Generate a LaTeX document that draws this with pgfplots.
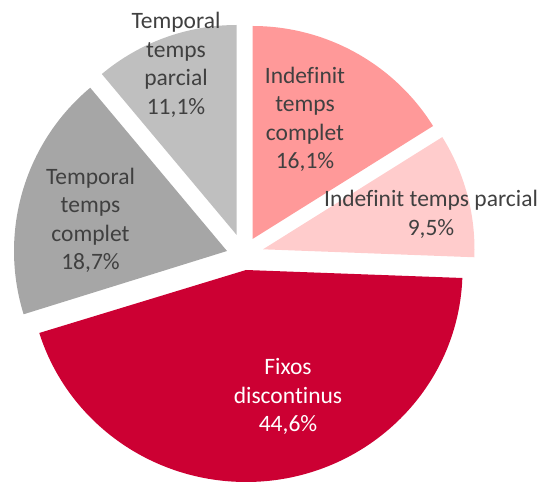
\documentclass[border=0pt]{standalone}
\usepackage{fontspec}
\setmainfont[Ligatures=NoCommon]{Carlito}
\usepackage{pgfplots}
\pgfplotsset{compat=1.18}
\usepackage{pgfplotstable}

\definecolor{cA}{HTML}{FF9999}
\definecolor{cB}{HTML}{FFCCCC}
\definecolor{cC}{HTML}{CC0033}
\definecolor{cD}{HTML}{A6A6A6}
\definecolor{cE}{HTML}{BFBFBF}
\definecolor{txt}{HTML}{404040}

% shares (%) of each slice, clockwise from the top
\pgfplotstableread{
value
16.1
9.5
44.6
18.7
11.1
}\piedata

\begin{document}
\begin{tikzpicture}
\pgfplotstablegetelem{0}{value}\of\piedata \pgfmathsetmacro\vA{\pgfplotsretval}
\pgfplotstablegetelem{1}{value}\of\piedata \pgfmathsetmacro\vB{\pgfplotsretval}
\pgfplotstablegetelem{2}{value}\of\piedata \pgfmathsetmacro\vC{\pgfplotsretval}
\pgfplotstablegetelem{3}{value}\of\piedata \pgfmathsetmacro\vD{\pgfplotsretval}
\pgfplotstablegetelem{4}{value}\of\piedata \pgfmathsetmacro\vE{\pgfplotsretval}
\pgfmathsetmacro\aA{90}
\pgfmathsetmacro\aB{\aA-3.6*\vA}
\pgfmathsetmacro\aC{\aB-3.6*\vB}
\pgfmathsetmacro\aD{\aC-3.6*\vC}
\pgfmathsetmacro\aE{\aD-3.6*\vD}
\pgfmathsetmacro\aF{\aE-3.6*\vE}
% #1 start angle, #2 end angle, #3,#4 apex (axis units), #5 x radius, #6 y radius, #7 colour
\newcommand\slice[7]{%
  \fill[#7] (axis cs:#3,#4) -- ++(#1:#5pt and #6pt)
    arc[start angle=#1, end angle=#2, x radius=#5pt, y radius=#6pt] -- cycle;}
\begin{axis}[hide axis, x=1pt, y=1pt, xmin=0, xmax=545, ymin=0, ymax=484,
  scale only axis, clip=false]
\slice{\aA}{\aB}{252.5}{245}{213}{213}{cA}
\slice{\aB}{\aC}{263}{234.7}{211.5}{211.5}{cB}
\slice{\aC}{\aD}{246}{214}{216.5}{212}{cC}
\slice{\aD}{\aE}{227}{233}{213}{213}{cD}
\slice{\aE}{\aF}{236.7}{249}{210}{210}{cE}
\tikzset{lbl/.style={align=center, inner sep=0pt, text=txt,
  font=\fontsize{23.5}{28.5}\selectfont}}
\node[lbl] at (axis cs:305,364.5) {Indefinit\\temps\\complet\\16,1\%};
\node[lbl] at (axis cs:431,269.5) {Indefinit temps parcial\\9,5\%};
\node[lbl, text=white] at (axis cs:288,87.5) {Fixos\\discontinus\\44,6\%};
\node[lbl] at (axis cs:90.5,263.5) {Temporal\\temps\\complet\\18,7\%};
\node[lbl] at (axis cs:176,419) {Temporal\\temps\\parcial\\11,1\%};
\end{axis}
\pgfresetboundingbox
\path (0,0) rectangle (545pt,484pt);
\end{tikzpicture}
\end{document}
